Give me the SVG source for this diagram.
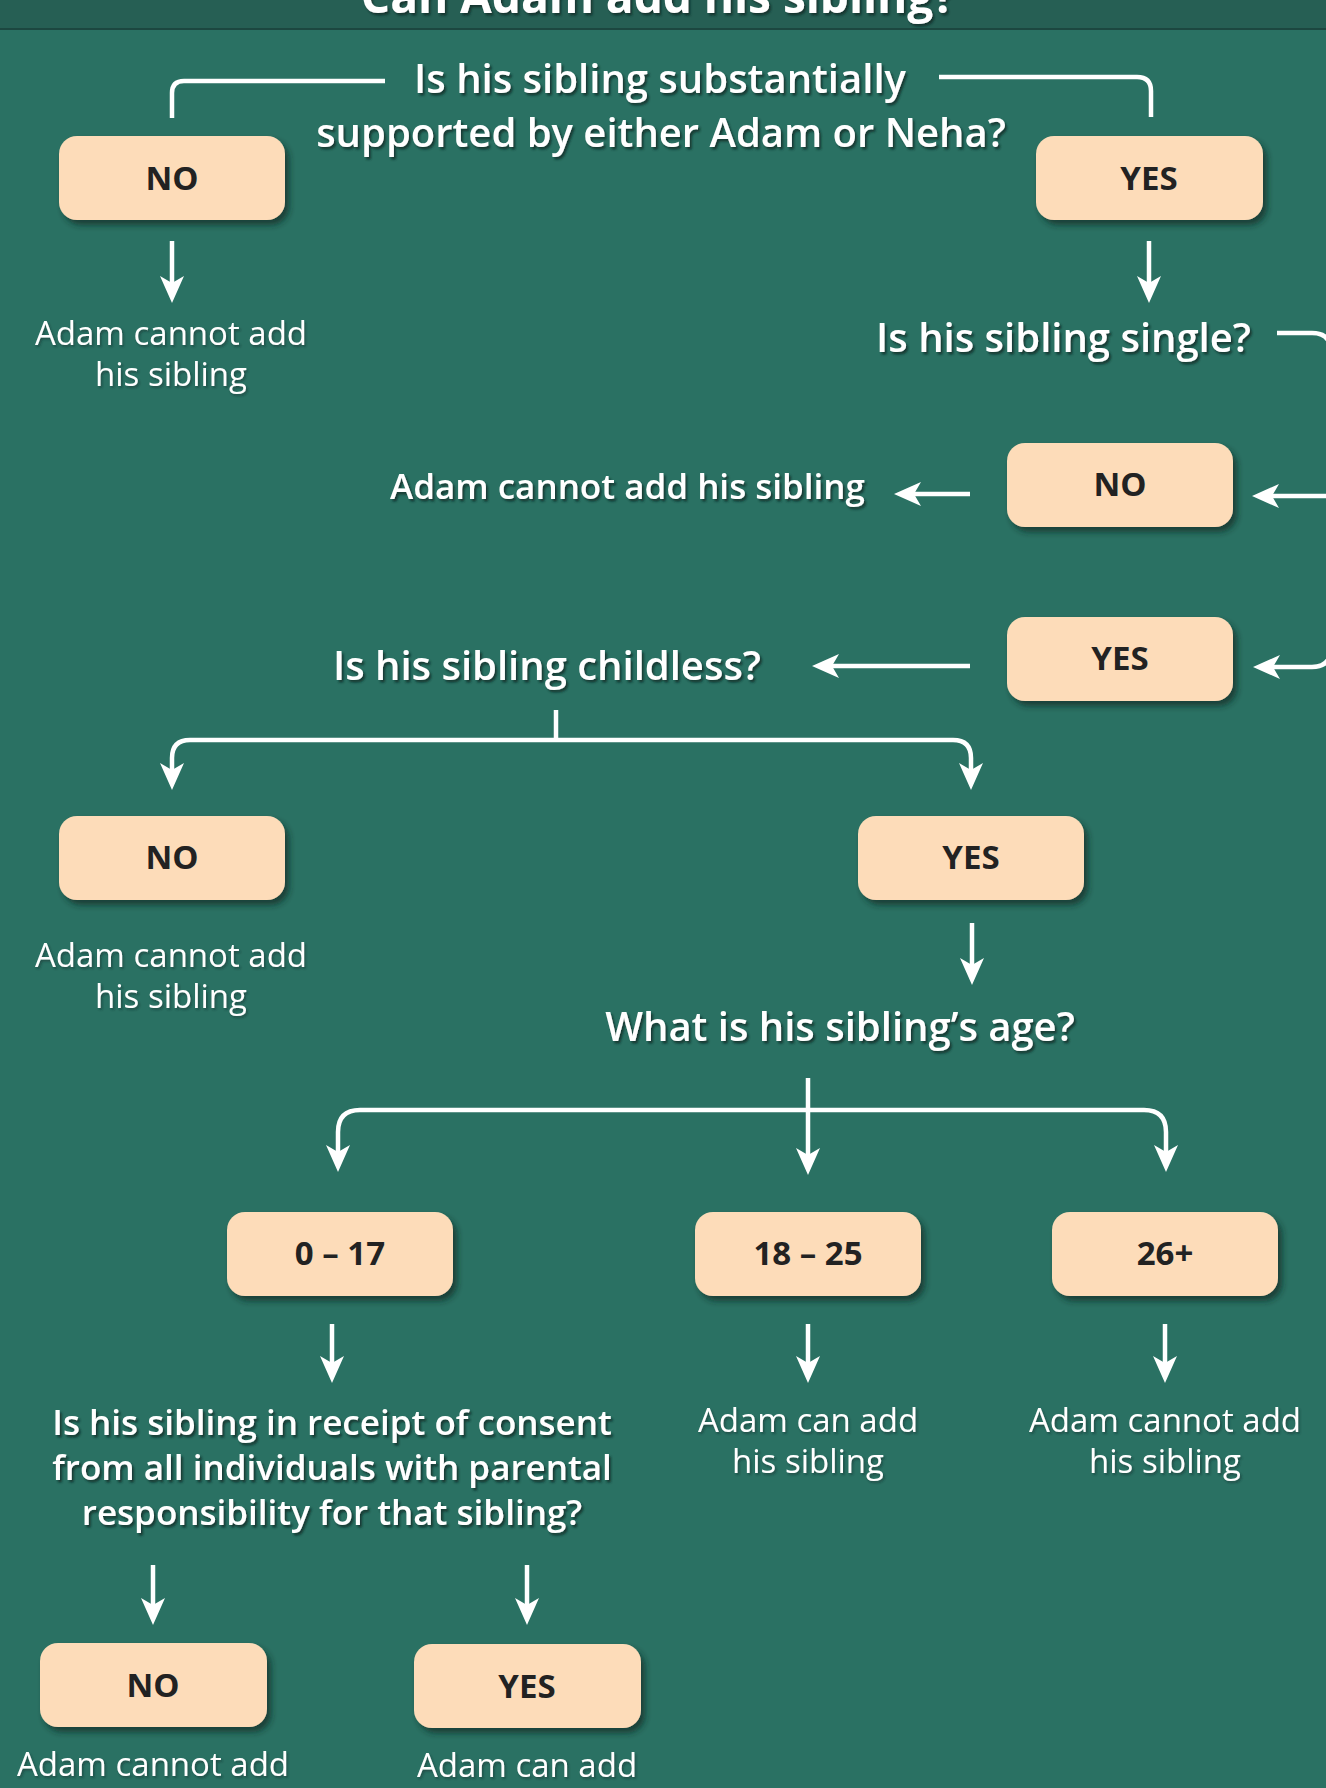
<svg xmlns="http://www.w3.org/2000/svg" width="1326" height="1788" viewBox="0 0 1326 1788">
<defs>
<style>
.bx{fill:#fddcb9;filter:url(#bs)}
.bt{font-family:"Open Sans","Noto Sans",sans-serif;font-weight:700;font-size:33px;fill:#222;text-anchor:middle}
.q{font-family:"Open Sans","Noto Sans",sans-serif;font-weight:600;font-size:40px;fill:#fff;text-anchor:middle;filter:url(#ts)}
.qs{font-size:35px}
.o{font-family:"Open Sans","Noto Sans",sans-serif;font-weight:400;font-size:33px;fill:#fff;text-anchor:middle;filter:url(#ts2)}
.ln{fill:none;stroke:#fff;stroke-width:4.5}
.ar{marker-end:url(#ah)}
</style>
<marker id="ah" markerUnits="userSpaceOnUse" markerWidth="28" markerHeight="24" viewBox="0 0 28 24" refX="17" refY="12" orient="auto">
<path d="M0,0 L27,12 L0,24 L7,12 Z" fill="#fff"/>
</marker>
<filter id="bs" x="-10%" y="-15%" width="130%" height="150%">
<feDropShadow dx="4" dy="5" stdDeviation="3" flood-color="#0b2620" flood-opacity="0.7"/>
</filter>
<filter id="ts" x="-5%" y="-20%" width="110%" height="150%">
<feDropShadow dx="2" dy="2.5" stdDeviation="1.2" flood-color="#0d2b25" flood-opacity="0.8"/>
</filter>
<filter id="ts2" x="-5%" y="-20%" width="110%" height="150%">
<feDropShadow dx="1.5" dy="2" stdDeviation="1" flood-color="#0d2b25" flood-opacity="0.5"/>
</filter>
</defs>
<rect x="0" y="0" width="1326" height="1788" fill="#2a7163"/>
<g id="header">
<rect x="0" y="0" width="1326" height="29" fill="#265f54"/>
<line x1="0" y1="29" x2="1326" y2="29" stroke="#1c4740" stroke-width="2"/>
<text x="658" y="13" font-family="'Open Sans','Noto Sans',sans-serif" font-weight="700" font-size="46" fill="#fff" text-anchor="middle" filter="url(#ts)">Can Adam add his sibling?</text>
</g>
<g id="connectors">
<path class="ln" d="M385,81 H184 Q172,81 172,93 V118"/>
<path class="ln" d="M939,77 H1137 Q1151,77 1151,91 V117"/>
<path class="ln ar" d="M172,241 V293"/>
<path class="ln ar" d="M1149,241 V293"/>
<path class="ln ar" d="M1277,333 H1312 Q1331,333 1331,352 V648 Q1331,667 1312,667 H1263"/>
<path class="ln ar" d="M1331,496 H1262"/>
<path class="ln ar" d="M970,494 H904"/>
<path class="ln ar" d="M970,666 H822"/>
<path class="ln" d="M556,710 V740"/>
<path class="ln ar" d="M556,740 H190 Q172,740 172,758 V780"/>
<path class="ln ar" d="M556,740 H953 Q971,740 971,758 V780"/>
<path class="ln ar" d="M972,923 V975"/>
<path class="ln ar" d="M808,1078 V1165"/>
<path class="ln ar" d="M808,1110 H360 Q338,1110 338,1132 V1162"/>
<path class="ln ar" d="M808,1110 H1144 Q1166,1110 1166,1132 V1162"/>
<path class="ln ar" d="M332,1324 V1373"/>
<path class="ln ar" d="M808,1324 V1373"/>
<path class="ln ar" d="M1165,1324 V1373"/>
<path class="ln ar" d="M153,1565 V1615"/>
<path class="ln ar" d="M527,1565 V1615"/>
</g>
<g id="q1">
<text class="q" x="660" y="93">Is his sibling substantially</text>
<text class="q" x="661" y="147">supported by either Adam or Neha?</text>
</g>
<g id="no1"><rect class="bx" x="59" y="136" width="226" height="84" rx="18"/><text class="bt" x="172" y="190">NO</text></g>
<g id="yes1"><rect class="bx" x="1036" y="136" width="227" height="84" rx="18"/><text class="bt" x="1149" y="190">YES</text></g>
<g id="out1">
<text class="o" x="171" y="345">Adam cannot add</text>
<text class="o" x="171" y="386">his sibling</text>
</g>
<g id="q2"><text class="q" x="1251" y="352" style="text-anchor:end">Is his sibling single?</text></g>
<g id="no2"><rect class="bx" x="1007" y="443" width="226" height="84" rx="18"/><text class="bt" x="1120" y="496">NO</text></g>
<g id="out2"><text class="q qs" x="865" y="499" style="text-anchor:end">Adam cannot add his sibling</text></g>
<g id="yes2"><rect class="bx" x="1007" y="617" width="226" height="84" rx="18"/><text class="bt" x="1120" y="670">YES</text></g>
<g id="q3"><text class="q" x="547" y="680">Is his sibling childless?</text></g>
<g id="no3"><rect class="bx" x="59" y="816" width="226" height="84" rx="18"/><text class="bt" x="172" y="869">NO</text></g>
<g id="yes3"><rect class="bx" x="858" y="816" width="226" height="84" rx="18"/><text class="bt" x="971" y="869">YES</text></g>
<g id="out3">
<text class="o" x="171" y="967">Adam cannot add</text>
<text class="o" x="171" y="1008">his sibling</text>
</g>
<g id="q4"><text class="q" x="840" y="1041">What is his sibling’s age?</text></g>
<g id="age1"><rect class="bx" x="227" y="1212" width="226" height="84" rx="18"/><text class="bt" x="340" y="1265">0 – 17</text></g>
<g id="age2"><rect class="bx" x="695" y="1212" width="226" height="84" rx="18"/><text class="bt" x="808" y="1265">18 – 25</text></g>
<g id="age3"><rect class="bx" x="1052" y="1212" width="226" height="84" rx="18"/><text class="bt" x="1165" y="1265">26+</text></g>
<g id="q5">
<text class="q qs" x="332" y="1435">Is his sibling in receipt of consent</text>
<text class="q qs" x="332" y="1480">from all individuals with parental</text>
<text class="q qs" x="332" y="1525">responsibility for that sibling?</text>
</g>
<g id="out4">
<text class="o" x="808" y="1432">Adam can add</text>
<text class="o" x="808" y="1473">his sibling</text>
</g>
<g id="out5">
<text class="o" x="1165" y="1432">Adam cannot add</text>
<text class="o" x="1165" y="1473">his sibling</text>
</g>
<g id="no4"><rect class="bx" x="40" y="1643" width="227" height="84" rx="18"/><text class="bt" x="153" y="1697">NO</text></g>
<g id="yes4"><rect class="bx" x="414" y="1644" width="227" height="84" rx="18"/><text class="bt" x="527" y="1698">YES</text></g>
<g id="out6"><text class="o" x="153" y="1776">Adam cannot add</text></g>
<g id="out7"><text class="o" x="527" y="1777">Adam can add</text></g>
</svg>
